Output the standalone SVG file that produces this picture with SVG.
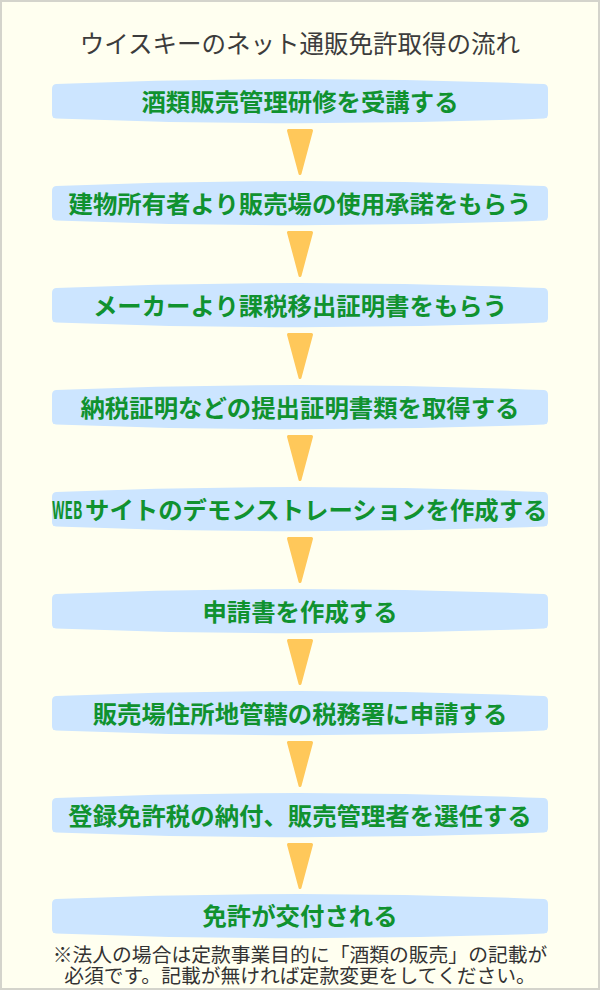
<svg xmlns="http://www.w3.org/2000/svg" width="600" height="990" viewBox="0 0 600 990">
<defs>
<style>
.bg{fill:#fffff0;stroke:#d4d4cc;stroke-width:2}
.box{fill:#cce5ff}
.lbl{font-family:"Noto Sans CJK JP","Noto Sans",sans-serif;font-size:24.4px;font-weight:bold;fill:#10922f;text-anchor:middle}
.lbs{font-family:"Noto Sans CJK JP","Noto Sans",sans-serif;font-size:24.4px;font-weight:bold;fill:#10922f;text-anchor:start}
.title{font-family:"Noto Sans CJK JP","Noto Sans",sans-serif;font-size:24.5px;fill:#3c3c3c;text-anchor:middle}
.note{font-family:"Noto Sans CJK JP","Noto Sans",sans-serif;font-size:19.8px;fill:#333;text-anchor:middle}
.arr{fill:#ffc85a;stroke:#ffc85a;stroke-width:3;stroke-linejoin:round}
</style>
<path id="boxshape" d="M56,84 Q300,74 544,84 Q548,84.5 548,89 L548,114 Q548,118 544,118.5 Q300,128 56,118.5 Q52,118 52,114 L52,89 Q52,84.5 56,84 Z"/>
<path id="arrshape" d="M288.5,130.5 L311.5,130.5 L300,173.5 Z"/>
</defs>
<rect class="bg" x="1" y="1" width="598" height="988"/>
<text class="title" x="300" y="53">ウイスキーのネット通販免許取得の流れ</text>

<g id="connectors">
<use href="#arrshape" class="arr"/>
<use href="#arrshape" class="arr" y="102"/>
<use href="#arrshape" class="arr" y="204"/>
<use href="#arrshape" class="arr" y="306"/>
<use href="#arrshape" class="arr" y="408"/>
<use href="#arrshape" class="arr" y="510"/>
<use href="#arrshape" class="arr" y="612"/>
<use href="#arrshape" class="arr" y="714"/>
</g>

<g id="step1"><use href="#boxshape" class="box"/><text class="lbl" x="300" y="111">酒類販売管理研修を受講する</text></g>
<g id="step2"><use href="#boxshape" class="box" y="102"/><text class="lbl" x="300" y="213">建物所有者より販売場の使用承諾をもらう</text></g>
<g id="step3"><use href="#boxshape" class="box" y="204"/><text class="lbl" x="300" y="315">メーカーより課税移出証明書をもらう</text></g>
<g id="step4"><use href="#boxshape" class="box" y="306"/><text class="lbl" x="300" y="417">納税証明などの提出証明書類を取得する</text></g>
<g id="step5"><use href="#boxshape" class="box" y="408"/><text class="lbs" transform="translate(52,519) scale(0.56,1)">WEB</text><text class="lbs" x="85" y="519">サイトのデモンストレーションを作成する</text></g>
<g id="step6"><use href="#boxshape" class="box" y="510"/><text class="lbl" x="300" y="621">申請書を作成する</text></g>
<g id="step7"><use href="#boxshape" class="box" y="612"/><text class="lbl" x="300" y="723">販売場住所地管轄の税務署に申請する</text></g>
<g id="step8"><use href="#boxshape" class="box" y="714"/><text class="lbl" x="300" y="825">登録免許税の納付、販売管理者を選任する</text></g>
<g id="step9"><use href="#boxshape" class="box" y="815"/><text class="lbl" x="300" y="925">免許が交付される</text></g>

<text class="note" x="300" y="962"><tspan x="300" y="962">※法人の場合は定款事業目的に「酒類の販売」の記載が</tspan><tspan x="300" y="983">必須です。記載が無ければ定款変更をしてください。</tspan></text>
</svg>
